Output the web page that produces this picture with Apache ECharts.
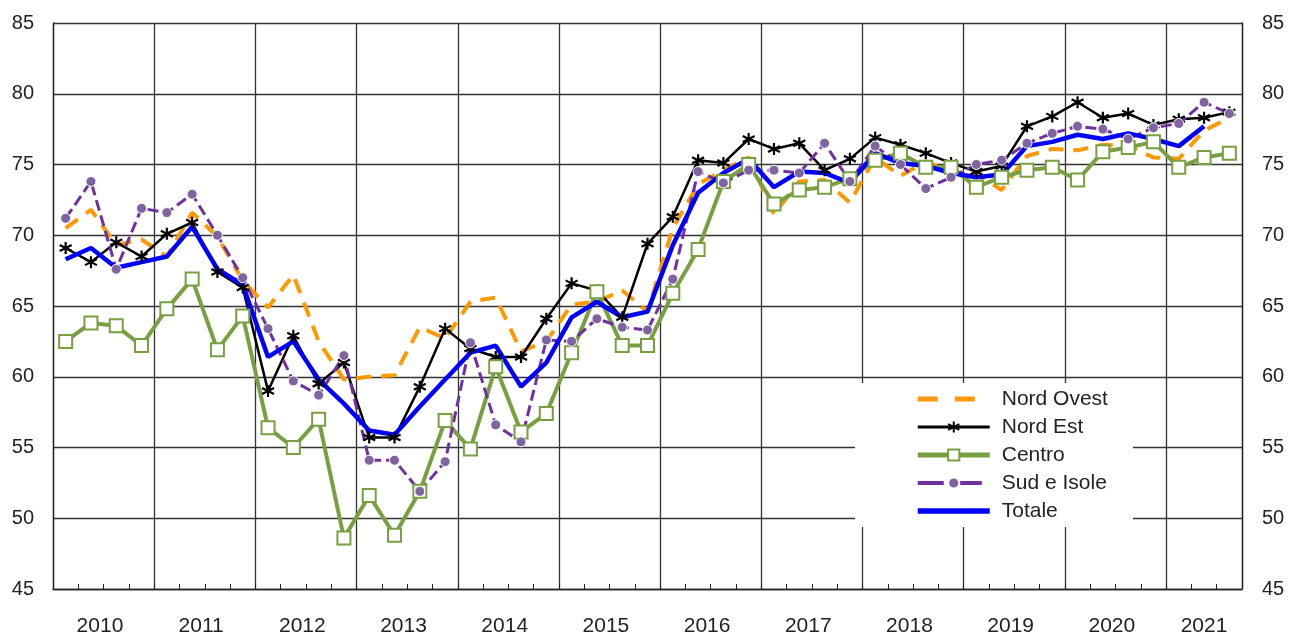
<!DOCTYPE html>
<html>
<head>
<meta charset="utf-8">
<script src="https://cdn.jsdelivr.net/npm/echarts@6/dist/echarts.min.js"></script>
<style>html,body{margin:0;padding:0;background:#fff}#c{width:1289px;height:637px}</style>
</head>
<body>
<div id="c"></div>
<script>
const years = ['2010','2011','2012','2013','2014','2015','2016','2017','2018','2019','2020','2021'];
const quartersPerYear = [4,4,4,4,4,4,4,4,4,4,4,3];
const yTicks = [45, 85, 5];

const nordOvest = [70.5,71.8,69.3,69.7, 68.5,71.6,69.9,66.8, 64.9,67.2,62.5,59.8, 60.0,60.1,63.5,62.7, 65.3,65.6,61.8,62.5, 65.1,65.3,66.1,64.6, 70.5,73.6,74.6,75.5, 71.5,73.8,73.9,72.3, 75.5,74.2,75.2,74.5, 74.3,73.2,75.6,76.1, 76.0,76.4,76.3,75.5, 75.4,77.4,78.3];
const nordEst = [69.1,68.1,69.5,68.5, 70.1,70.9,67.4,66.3, 59.0,62.9,59.5,61.0, 55.7,55.7,59.3,63.4, 62.0,61.4,61.4,64.1, 66.6,66.1,64.2,69.4, 71.3,75.3,75.1,76.8, 76.1,76.5,74.6,75.4, 76.9,76.4,75.8,75.1, 74.5,74.9,77.7,78.4, 79.4,78.3,78.6,77.8, 78.2,78.3,78.7];
const centro = [62.5,63.8,63.6,62.2, 64.8,66.9,61.9,64.3, 56.4,55.0,57.0,48.6, 51.6,48.8,51.9,56.9, 54.9,60.7,56.1,57.4, 61.7,66.0,62.2,62.2, 65.9,69.0,73.8,75.0, 72.2,73.2,73.4,74.0, 75.3,75.8,74.8,74.8, 73.4,74.1,74.6,74.8, 73.9,75.9,76.2,76.6, 74.8,75.5,75.8];
const sudIsole = [71.2,73.8,67.6,71.9, 71.6,72.9,70.0,67.0, 63.4,59.7,58.7,61.5, 54.1,54.1,51.9,54.0, 62.4,56.6,55.4,62.6, 62.5,64.1,63.5,63.3, 66.9,74.5,73.7,74.6, 74.6,74.4,76.5,73.8, 76.3,75.0,73.3,74.1, 75.0,75.3,76.5,77.2, 77.7,77.5,76.8,77.6, 77.9,79.4,78.6];
const totale = [68.3,69.1,67.7,68.1, 68.5,70.6,67.6,66.5, 61.4,62.5,59.8,58.1, 56.2,55.9,57.9,59.8, 61.7,62.2,59.3,61.0, 64.2,65.3,64.2,64.6, 69.3,73.0,74.4,75.4, 73.4,74.5,74.4,73.7, 75.8,75.1,74.9,74.4, 74.1,74.3,76.3,76.6, 77.1,76.8,77.2,76.8, 76.3,77.7];

const categories = [];
const yearOfCat = [];
const qOfCat = [];
years.forEach((y, yi) => { for (let q = 1; q <= quartersPerYear[yi]; q++) { categories.push(y + ' T' + q); yearOfCat.push(y); qOfCat.push(q); } });

const FONT = 'Liberation Sans, Arial, sans-serif';
const TXT = '#222';
const starPath = 'path://M5,0L5,10M0.7,2.5L9.3,7.5M0.7,7.5L9.3,2.5';
const noSym = {color: 'rgba(0,0,0,0)', borderWidth: 0, opacity: 0};

const chart = echarts.init(document.getElementById('c'), null, {renderer: 'canvas'});
chart.setOption({
  animation: false,
  backgroundColor: '#fff',
  grid: {left: 53, right: 47, top: 23, bottom: 47, containLabel: false},
  legend: {
    orient: 'vertical', left: 855, top: 383,
    backgroundColor: '#fff',
    padding: [5, 25, 5, 60],
    itemWidth: 72, itemHeight: 14, itemGap: 6,
    textStyle: {fontFamily: FONT, fontSize: 21, color: TXT, lineHeight: 22, padding: [0, 0, 0, 7]},
    data: [
      {name: 'Nord Ovest', itemStyle: noSym, lineStyle: {width: 5, type: [20, 17]}},
      {name: 'Nord Est', lineStyle: {width: 3}},
      {name: 'Centro', lineStyle: {width: 5}},
      {name: 'Sud e Isole', lineStyle: {width: 4, type: [26, 12]}},
      {name: 'Totale', itemStyle: noSym, lineStyle: {width: 5.5}}
    ]
  },
  xAxis: {
    type: 'category', data: categories, boundaryGap: true,
    axisLine: {lineStyle: {color: '#222', width: 1.3}},
    axisTick: {show: true, inside: true, length: 5, interval: 0, lineStyle: {color: '#222'}},
    splitLine: {show: true, interval: (i) => i % 4 === 0, lineStyle: {color: '#333', width: 1.3}},
    axisLabel: {
      interval: 0, margin: 27, fontFamily: FONT, fontSize: 21, color: TXT,
      formatter: (v, i) => {
        if (qOfCat[i] !== 2) return '';
        const yi = years.indexOf(yearOfCat[i]);
        return quartersPerYear[yi] === 4 ? '{s|' + yearOfCat[i] + '}' : '{c|' + yearOfCat[i] + '}';
      },
      rich: {
        s: {padding: [0, 0, 0, 18], fontFamily: FONT, fontSize: 21, color: TXT},
        c: {fontFamily: FONT, fontSize: 21, color: TXT}
      }
    }
  },
  yAxis: [
    {type: 'value', min: yTicks[0], max: yTicks[1], interval: yTicks[2], position: 'left',
     axisLine: {show: true, lineStyle: {color: '#222', width: 1.3}}, axisTick: {show: false},
     splitLine: {show: true, lineStyle: {color: '#333', width: 1.3}},
     axisLabel: {margin: 19, fontFamily: FONT, fontSize: 20, color: TXT}},
    {type: 'value', min: yTicks[0], max: yTicks[1], interval: yTicks[2], position: 'right',
     axisLine: {show: true, lineStyle: {color: '#222', width: 1.3}}, axisTick: {show: false},
     splitLine: {show: false},
     axisLabel: {margin: 20, fontFamily: FONT, fontSize: 20, color: TXT}}
  ],
  series: [
    {name: 'Nord Ovest', type: 'line', data: nordOvest, symbol: 'none',
     lineStyle: {color: '#FF9900', width: 4, type: [15, 10]}, itemStyle: {color: '#FF9900'}},
    {name: 'Nord Est', type: 'line', data: nordEst, symbol: starPath, symbolSize: 12,
     lineStyle: {color: '#000', width: 2.5}, itemStyle: {color: '#000', borderColor: '#000', borderWidth: 2.2}},
    {name: 'Centro', type: 'line', data: centro, symbol: 'rect', symbolSize: 13,
     lineStyle: {color: '#78A040', width: 4}, itemStyle: {color: '#fff', borderColor: '#78A040', borderWidth: 2}},
    {name: 'Sud e Isole', type: 'line', data: sudIsole, symbol: 'circle', symbolSize: 10,
     lineStyle: {color: '#7030A0', width: 3, type: [11, 5]}, itemStyle: {color: '#8064A2', borderColor: '#fff', borderWidth: 1}},
    {name: 'Totale', type: 'line', data: totale, symbol: 'none',
     lineStyle: {color: '#0000FF', width: 4.5}, itemStyle: {color: '#0000FF'}}
  ]
});
</script>
</body>
</html>
